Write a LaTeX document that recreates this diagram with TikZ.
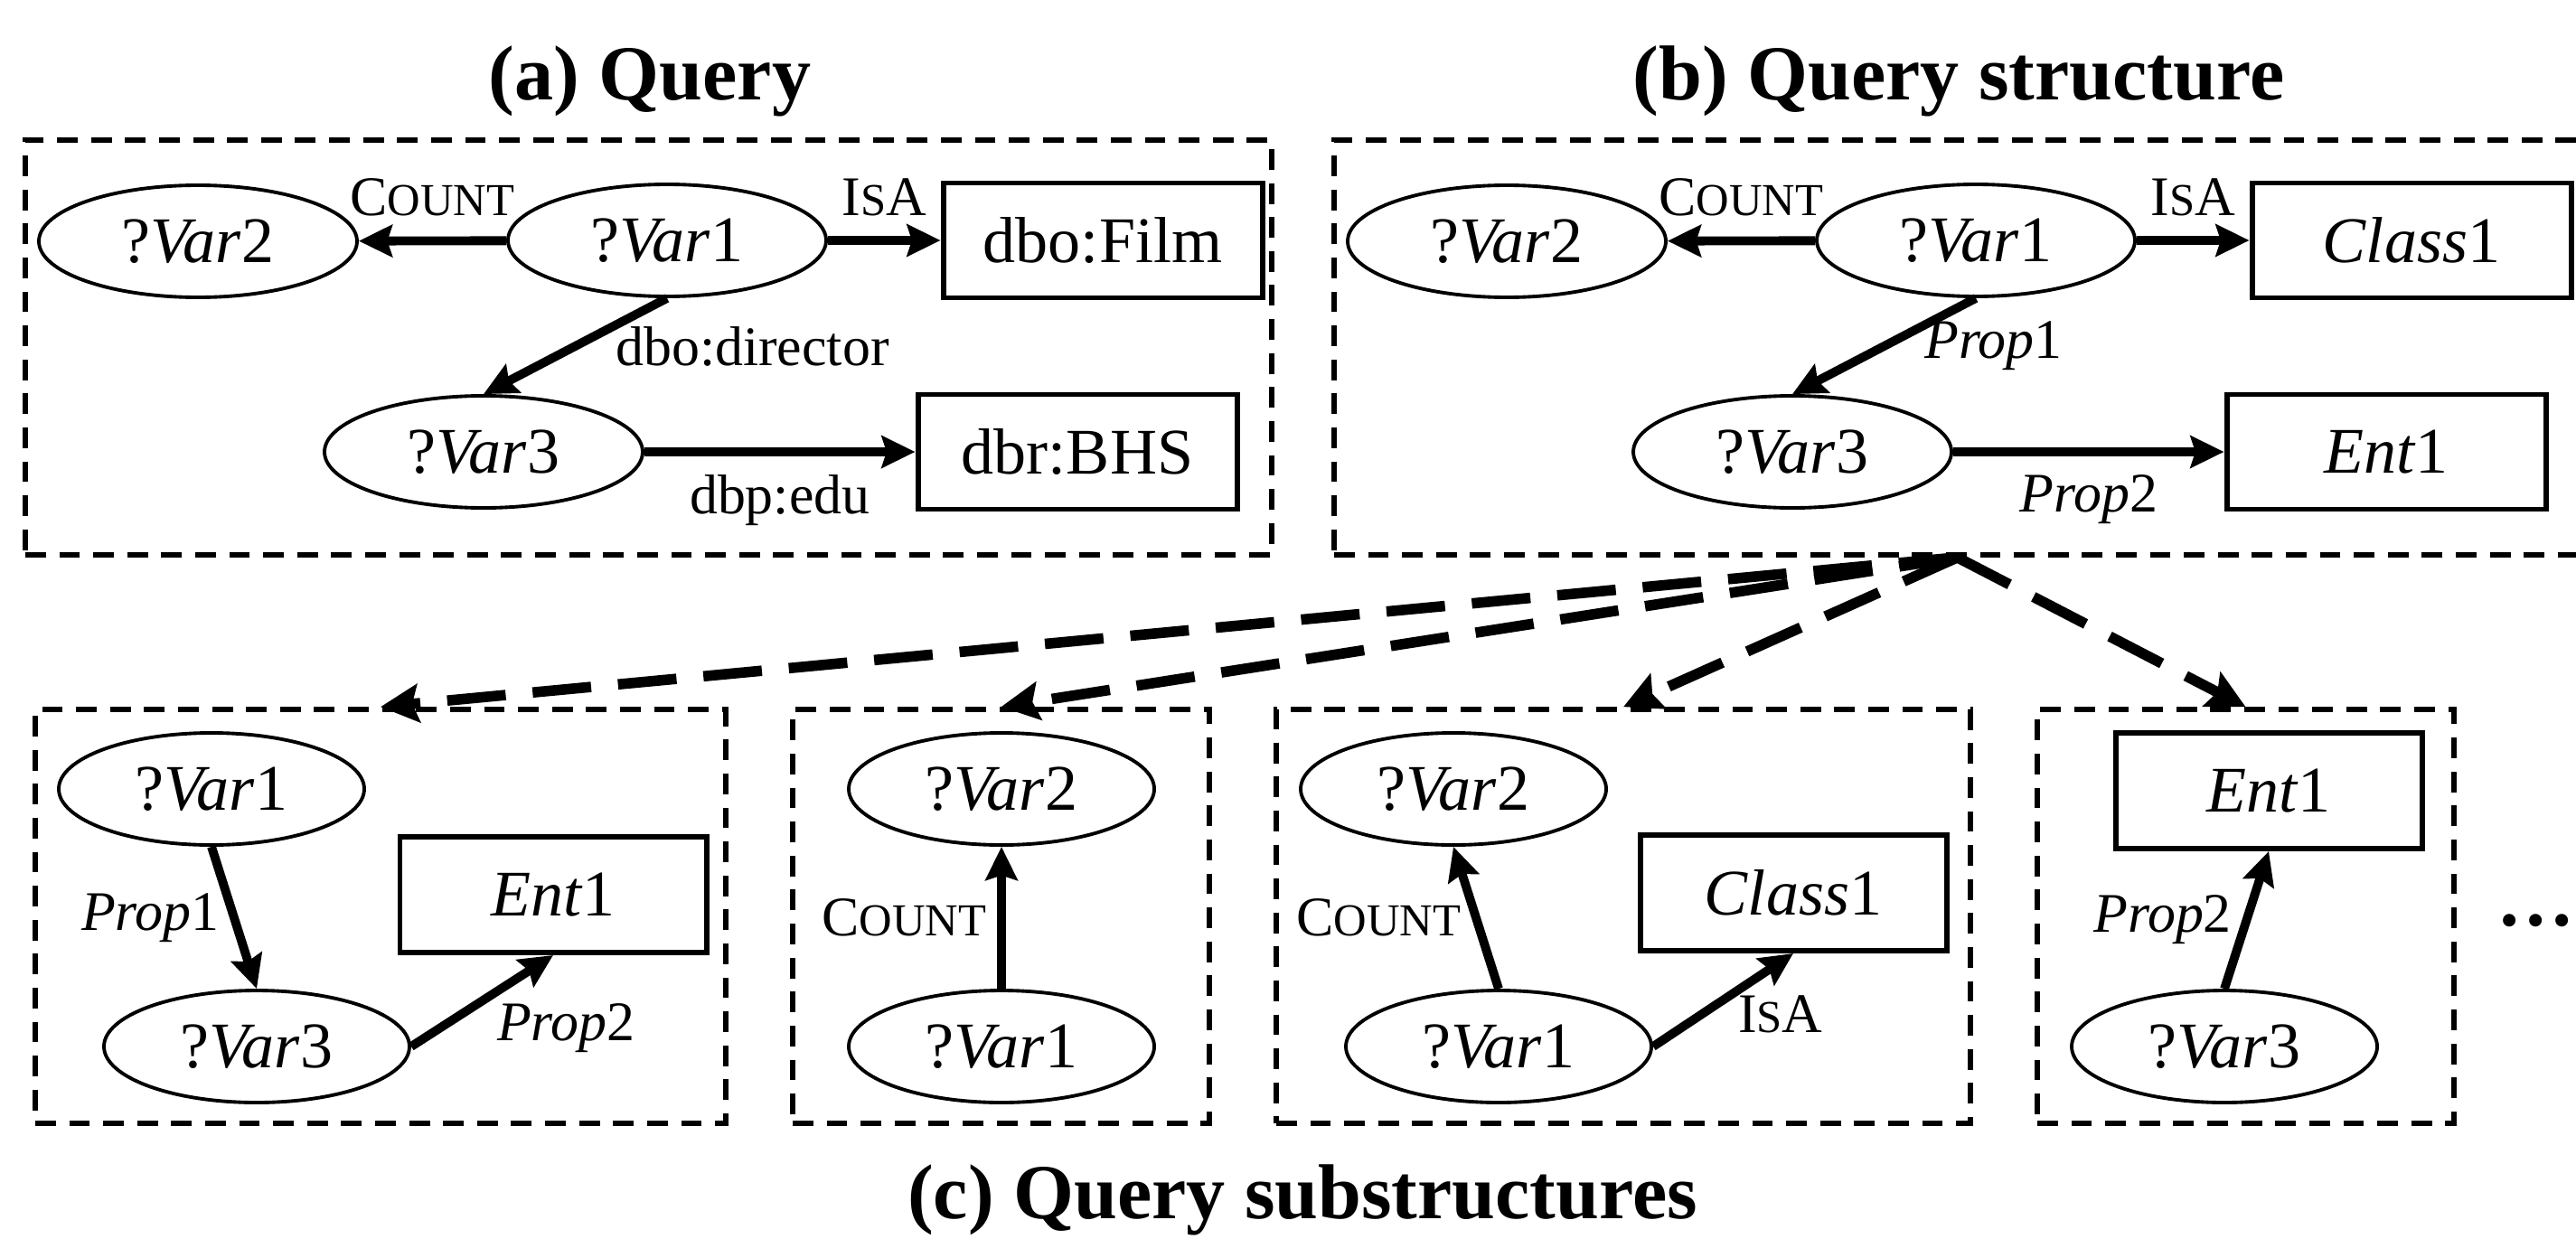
\documentclass[tikz,border=0pt]{standalone}
\usepackage{fontspec}
\setmainfont{Liberation Serif}
\usepackage{tikz}
\usetikzlibrary{shapes.geometric, arrows.meta, calc, positioning}

\newcommand{\opcount}{C{\fontsize{14.4}{16}\selectfont OUNT}}
\newcommand{\opisa}{I{\fontsize{14.4}{16}\selectfont S}A}
\newcommand{\qvar}[1]{?\textit{Var}#1}

\tikzstyle{var} = [ellipse, minimum width=3.52cm, minimum height=1.24cm, inner sep=0pt, draw=black, line width=1.1pt, font={\fontsize{20.5}{24}\selectfont}]
\tikzstyle{varsmall} = [var, minimum width=3.38cm]
\tikzstyle{term} = [rectangle, minimum width=3.53cm, minimum height=1.27cm, inner sep=0pt, draw=black, line width=1.7pt, font={\fontsize{20.5}{24}\selectfont}]
\tikzstyle{termsmall} = [term, minimum width=3.39cm, minimum height=1.28cm]
\tikzstyle{frame} = [rectangle, draw=black, line width=1.6pt, dash pattern=on 6.5pt off 4.2pt, inner sep=0pt, minimum height=4.59cm]
\tikzstyle{title} = [font={\fontsize{24.5}{28}\selectfont\bfseries}, anchor=base]
\tikzstyle{lbl} = [font={\fontsize{17.6}{20}\selectfont}]
\tikzstyle{arrow} = [line width=2.8pt,->,>={Stealth[length=10.5pt,width=10pt,inset=1.5pt]}]
\tikzstyle{split} = [line width=3.3pt,dash pattern=on 18.5pt off 8.5pt,->,>={Stealth[length=12pt,width=12pt,inset=2pt]}]

\begin{document}
\begin{tikzpicture}[node distance=2cm]
\useasboundingbox (0,0) rectangle (28.5,13.7);

\node (titlea) [title] at (7.19,12.59) {(a) Query};
\node (titleb) [title] at (21.67,12.59) {(b) Query structure};
\node (titlec) [title] at (14.41,0.22) {(c) Query substructures};
%
\node (framea) [frame, minimum width=13.79cm] at (7.175,9.855) {};
\node (v2a) [var] at (2.19,11.03) {\qvar{2}};
\node (v1a) [var] at (7.38,11.04) {\qvar{1}};
\node (film) [term] at (12.20,11.04) {dbo:Film};
\node (v3a) [var] at (5.35,8.70) {\qvar{3}};
\node (bhs) [term] at (11.92,8.70) {dbr:BHS};
%
\node (frameb) [frame, minimum width=13.79cm] at (21.655,9.855) {};
\node (v2b) [var] at (16.67,11.03) {\qvar{2}};
\node (v1b) [var] at (21.86,11.04) {\qvar{1}};
\node (class) [term] at (26.68,11.04) {\textit{Class}1};
\node (v3b) [var] at (19.83,8.70) {\qvar{3}};
\node (ent) [term] at (26.40,8.70) {\textit{Ent}1};
%
\node (framec1) [frame, minimum width=7.64cm, minimum height=4.58cm] at (4.21,3.56) {};
\node (v1c1) [varsmall] at (2.34,4.97) {\qvar{1}};
\node (v3c1) [varsmall] at (2.84,2.12) {\qvar{3}};
\node (entc1) [termsmall] at (6.12,3.80) {\textit{Ent}1};
%
\node (framec2) [frame, minimum width=4.61cm, minimum height=4.58cm] at (11.075,3.56) {};
\node (v2c2) [varsmall] at (11.08,4.97) {\qvar{2}};
\node (v1c2) [varsmall] at (11.08,2.12) {\qvar{1}};
%
\node (framec3) [frame, minimum width=7.68cm, minimum height=4.58cm] at (17.96,3.56) {};
\node (v2c3) [varsmall] at (16.08,4.97) {\qvar{2}};
\node (v1c3) [varsmall] at (16.58,2.12) {\qvar{1}};
\node (classc3) [termsmall] at (19.84,3.82) {\textit{Class}1};
%
\node (framec4) [frame, minimum width=4.61cm, minimum height=4.58cm] at (24.845,3.56) {};
\node (entc4) [termsmall] at (25.10,4.95) {\textit{Ent}1};
\node (v3c4) [varsmall] at (24.61,2.12) {\qvar{3}};
\node (more) [title, anchor=base east, inner sep=0pt] at (28.49,3.46) {…};

\draw [arrow] (v1a) -- node[lbl, above=3pt] {\opcount} (v2a);
\draw [arrow] (v1a) -- node[lbl, above=3pt] {\opisa} (film);
\draw [arrow] (v1a.south) -- node[lbl, right=8pt] {dbo:director} (v3a.north);
\draw [arrow] (v3a) -- node[lbl, below=2.5pt] {dbp:edu} (bhs);
%
\draw [arrow] (v1b) -- node[lbl, above=3pt] {\opcount} (v2b);
\draw [arrow] (v1b) -- node[lbl, above=3pt] {\opisa} (class);
\draw [arrow] (v1b.south) -- node[lbl, right=8pt] {\textit{Prop}1} (v3b.north);
\draw [arrow] (v3b) -- node[lbl, below=2.5pt] {\textit{Prop}2} (ent);
%
\draw [arrow] (v1c1.south) -- node[lbl, left] {\textit{Prop}1} (v3c1.north);
\draw [arrow] (v3c1.east) -- node[lbl, below right, yshift=4pt] {\textit{Prop}2} (entc1.south);
\draw [arrow] (v1c2) -- node[lbl, left] {\opcount} (v2c2);
\draw [arrow] (v1c3.north) -- node[lbl, left] {\opcount} (v2c3.south);
\draw [arrow] (v1c3.east) -- node[lbl, below right, yshift=6pt] {\opisa} (classc3.south);
\draw [arrow] (v3c4.north) -- node[lbl, left] {\textit{Prop}2} (entc4.south);
%
\draw [split] (frameb.south) -- (framec1.north);
\draw [split] (frameb.south) -- (framec2.north);
\draw [split] (frameb.south) -- (framec3.north);
\draw [split] (frameb.south) -- (framec4.north);

\end{tikzpicture}
\end{document}
